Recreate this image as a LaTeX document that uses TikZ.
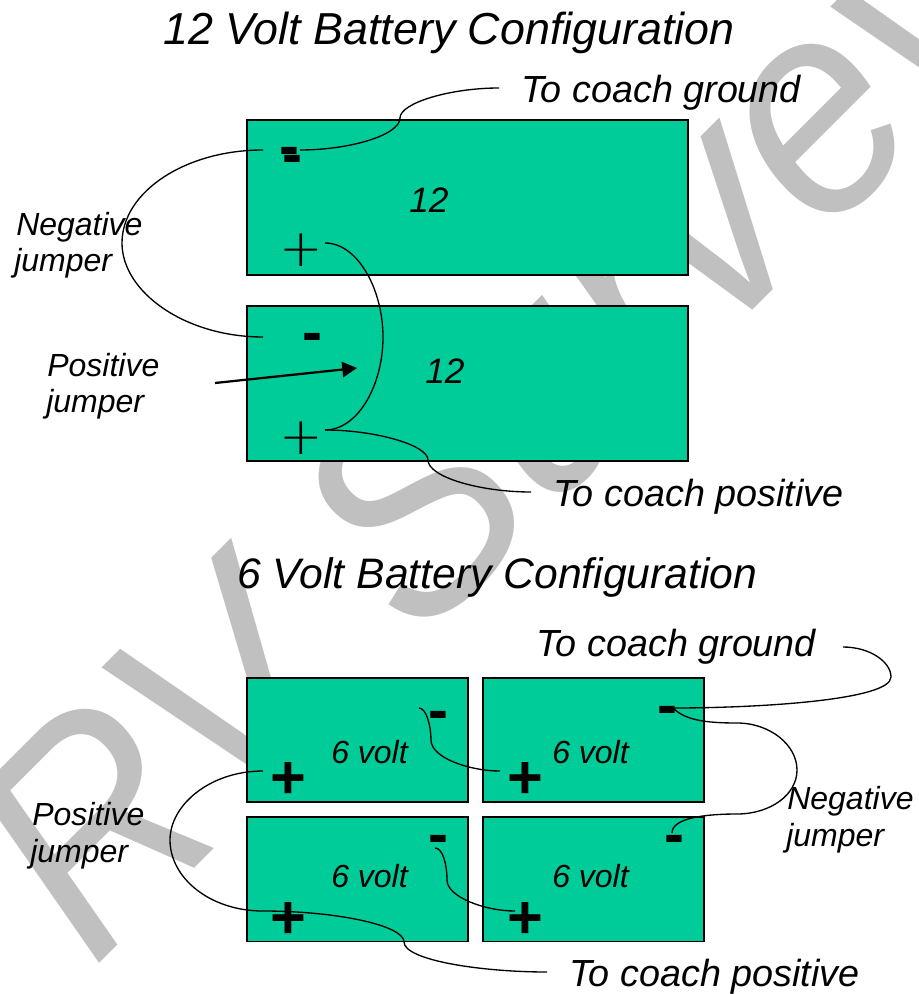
\documentclass[tikz,border=0pt]{standalone}
\usepackage{fontspec}
\setmainfont{Liberation Sans}
\newfontfamily\thinfont{DejaVu Sans ExtraLight}
\newfontfamily\wmfont[FakeStretch=0.925]{Liberation Sans}
\usetikzlibrary{arrows.meta}
\definecolor{batt}{HTML}{00CC99}
\definecolor{wmark}{HTML}{C0C0C0}
\newcommand{\sz}[2]{\fontsize{#1}{#2}\selectfont}
\tikzset{
  battery/.style={draw=black,fill=batt,line width=1.1pt,anchor=north west,inner sep=0,outer sep=0},
  wire/.style={draw=black,line width=1pt},
  label12/.style={anchor=base west,inner sep=0,align=left,font=\itshape\sz{24}{27.4}},
  bignum/.style={anchor=base west,inner sep=0,font=\itshape\sz{26.5}{27.4}},
  title/.style={anchor=base west,inner sep=0,font=\itshape\sz{33.6}{36}},
  titlesix/.style={anchor=base west,inner sep=0,font=\itshape\sz{32}{36}},
  callout/.style={anchor=base west,inner sep=0,font=\itshape\sz{28.3}{30}},
  thinplus/.style={anchor=base,inner sep=0,font=\thinfont\sz{39}{39}},
  thickplus/.style={anchor=base,inner sep=0,font=\bfseries\sz{46}{46}},
  minus/.style={anchor=base,inner sep=0,font=\bfseries\sz{45}{45}},
}
\begin{document}
\begin{tikzpicture}[x=0.75pt,y=-0.75pt]
\useasboundingbox (0,0) rectangle (919,994);
\begin{scope}
\clip (0,0) rectangle (919,994);
\node[anchor=base west,inner sep=0,rotate=45,text=wmark,font=\wmfont\itshape\sz{226}{226}] (wm) at (93,970) {RV Survey};
\end{scope}

% batteries
\node[battery,minimum width=441*0.75pt,minimum height=155*0.75pt] (A) at (247,120) {};
\node[battery,minimum width=441*0.75pt,minimum height=155*0.75pt] (B) at (247,306) {};
\node[battery,minimum width=221*0.75pt,minimum height=124*0.75pt] (TL) at (247,678) {};
\node[battery,minimum width=221*0.75pt,minimum height=124*0.75pt] (TR) at (483,678) {};
\node[battery,minimum width=221*0.75pt,minimum height=124.5*0.75pt] (BL) at (247,817) {};
\node[battery,minimum width=221*0.75pt,minimum height=124.5*0.75pt] (BR) at (483,817) {};

% titles and labels
\node[title] (t12) at (163,45) {12 Volt Battery Configuration};
\node[titlesix] (t6) at (237,588) {6 Volt Battery Configuration};
\node[callout] (g12) at (521,103) {To coach ground};
\node[callout] (p12) at (553,506) {To coach positive};
\node[callout] (g6) at (536,656) {To coach ground};
\node[callout] (p6) at (569,986) {To coach positive};
\node[bignum] (a12) at (409,213) {12};
\node[bignum] (b12) at (425,383) {12};
\node[label12] (v1) at (331,763) {6 volt};
\node[label12] (v2) at (552,763) {6 volt};
\node[label12] (v3) at (331,887) {6 volt};
\node[label12] (v4) at (552,887) {6 volt};
\node[label12] (nj1) at (16,236) {Negative};
\node[label12] (nj1b) at (14,272) {jumper};
\node[label12] (pj1) at (47,376) {Positive};
\node[label12] (pj1b) at (46,412) {jumper};
\node[label12] (pj2) at (32,825) {Positive};
\node[label12] (pj2b) at (30,862) {jumper};
\node[label12] (nj2) at (787,809) {Negative};
\node[label12] (nj2b) at (786,846) {jumper};

% terminals
\node[thinplus] (pa) at (301,267) {+};
\node[thinplus] (pb) at (301,454) {+};
\node[thickplus] (ptl) at (288,798) {+};
\node[thickplus] (ptr) at (525,798) {+};
\node[thickplus] (pbl) at (288,938) {+};
\node[thickplus] (pbr) at (525,938) {+};
\node[minus] (ma1) at (289,167) {-};
\node[minus] (ma2) at (292,175) {-};
\node[minus] (mb) at (312,353) {-};
\node[minus] (mtl) at (438,730) {-};
\node[minus] (mbl) at (438,854) {-};
\node[minus] (mtr) at (667,725) {-};
\node[minus] (mbr) at (674,854) {-};

% wire ends
\coordinate (n1a) at (263,150);
\coordinate (n1b) at (263,337);
\coordinate (g1a) at (300,150);
\coordinate (g1b) at (499,88);
\coordinate (p1a) at (325,243);
\coordinate (p1b) at (325,430);
\coordinate (o1b) at (531,492);
\coordinate (ar1) at (215,383);
\coordinate (ar2) at (357,368);
\coordinate (g2a) at (843,647);
\coordinate (g2b) at (673,708);
\coordinate (n2b) at (672,833);
\coordinate (s1a) at (419,708);
\coordinate (s1b) at (500,771);
\coordinate (s2a) at (435,848);
\coordinate (s2b) at (515,911);
\coordinate (j2a) at (263,771);
\coordinate (j2b) at (263,911);
\coordinate (o2b) at (547,972);

% wires, 12 volt
\draw[wire] (n1a) .. controls (185,150) and (122,192) .. (122,243) .. controls (122,292) and (185,337) .. (n1b);
\draw[wire] (g1a) .. controls (350,150) and (400,135) .. (400,118) .. controls (400,103) and (450,88) .. (g1b);
\draw[wire] (p1a) .. controls (358,243) and (383,290) .. (383,337) .. controls (383,385) and (358,430) .. (p1b);
\draw[wire] (p1b) .. controls (375,430) and (428,445) .. (428,460) .. controls (428,477) and (480,492) .. (o1b);
\draw[line width=1.7pt,-{Triangle[length=11pt,width=11.5pt]}] (ar1) -- (ar2);

% wires, 6 volt
\draw[wire] (g2a) .. controls (870,647) and (891,662) .. (891,677) .. controls (891,700) and (760,708) .. (g2b);
\draw[wire] (g2b) .. controls (685,720) and (705,723) .. (737,723) .. controls (770,723) and (797,745) .. (797,770) .. controls (797,795) and (770,814) .. (737,814) .. controls (705,814) and (672,818) .. (n2b);
\draw[wire] (s1a) .. controls (426,708) and (431,725) .. (431,740) .. controls (431,758) and (470,771) .. (s1b);
\draw[wire] (s2a) .. controls (443,848) and (447,865) .. (447,880) .. controls (447,897) and (485,911) .. (s2b);
\draw[wire] (j2a) .. controls (210,771) and (170,805) .. (170,840) .. controls (170,878) and (210,911) .. (j2b);
\draw[wire] (j2b) .. controls (335,911) and (404,925) .. (404,942) .. controls (404,960) and (480,972) .. (o2b);
\end{tikzpicture}
\end{document}
